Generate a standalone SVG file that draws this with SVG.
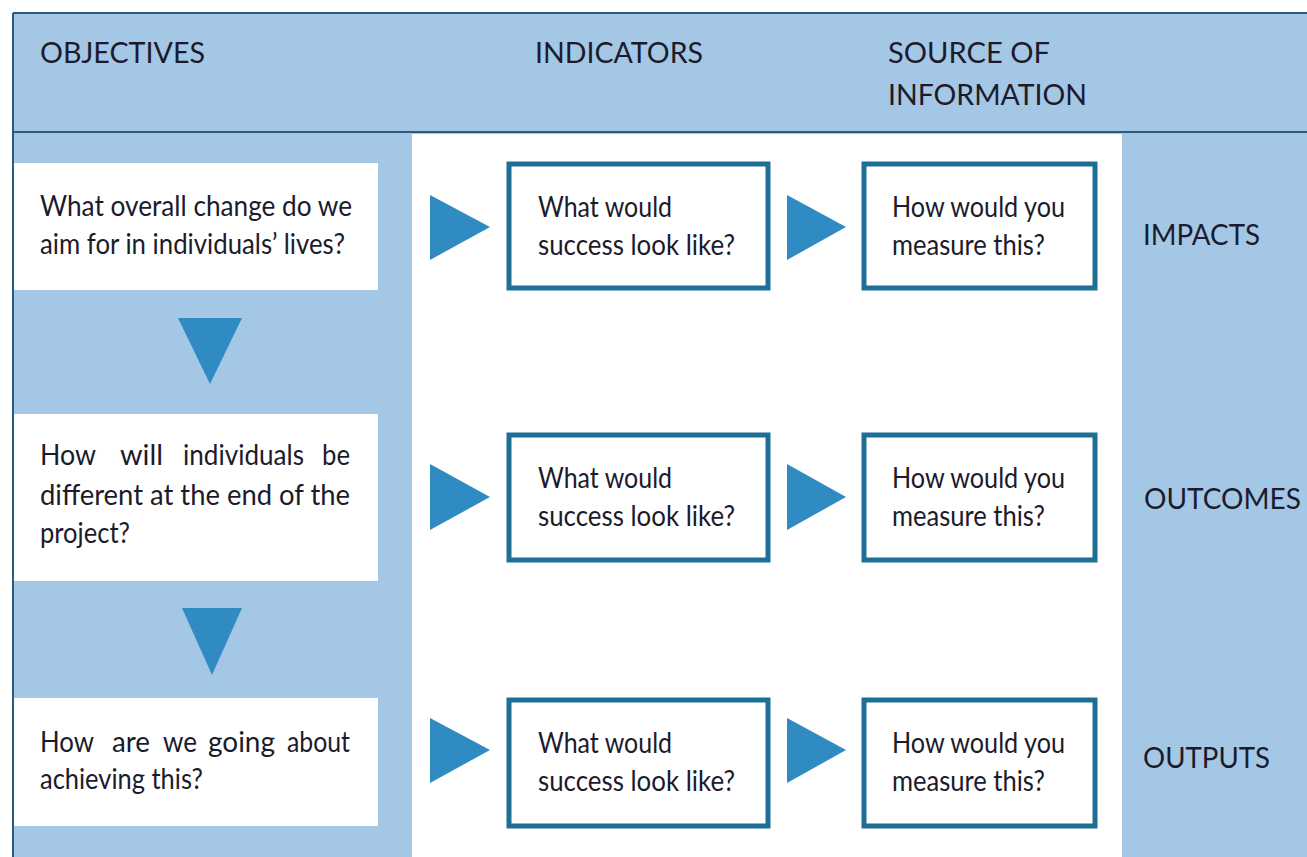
<svg xmlns="http://www.w3.org/2000/svg" width="1307" height="857" viewBox="0 0 1307 857">
<style>
  .band{fill:#a4c7e6}
  .t{font-family:Lato,"Open Sans","Liberation Sans",sans-serif;font-size:29px;fill:#1c1b2c}
  .h{font-family:Lato,"Open Sans","Liberation Sans",sans-serif;font-size:28px;fill:#1c1b2c}
  .q{fill:#ffffff}
  .box{fill:#ffffff;stroke:#1d6f96;stroke-width:5}
  .arr{fill:#2f8bc1}
  .rule{stroke:#2b5b7c;stroke-width:2}
</style>
<rect width="1307" height="857" fill="#ffffff"/>
<g id="background">
  <rect class="band" x="13" y="13" width="1294" height="844"/>
  <rect x="412" y="134" width="710" height="723" fill="#ffffff"/>
  <line class="rule" x1="13" y1="13" x2="1307" y2="13"/>
  <line class="rule" x1="13" y1="132" x2="1307" y2="132"/>
  <line class="rule" x1="13" y1="13" x2="13" y2="857"/>
</g>
<g id="headers">
  <text class="h" x="40" y="63" textLength="165" lengthAdjust="spacingAndGlyphs">OBJECTIVES</text>
  <text class="h" x="535" y="63" textLength="168" lengthAdjust="spacingAndGlyphs">INDICATORS</text>
  <text class="h" x="888" y="63" textLength="162" lengthAdjust="spacingAndGlyphs">SOURCE OF</text>
  <text class="h" x="888" y="105" textLength="199" lengthAdjust="spacingAndGlyphs">INFORMATION</text>
</g>
<g id="obj-impacts">
  <rect class="q" x="14" y="163" width="364" height="127"/>
  <text class="t" x="40" y="216" textLength="312" lengthAdjust="spacingAndGlyphs">What overall change do we</text>
  <text class="t" x="40" y="254" textLength="305" lengthAdjust="spacingAndGlyphs">aim for in individuals’ lives?</text>
</g>
<g id="obj-outcomes">
  <rect class="q" x="14" y="414" width="364" height="167"/>
  <text class="t" y="465"><tspan x="40" textLength="56" lengthAdjust="spacingAndGlyphs">How</tspan><tspan x="120" textLength="43" lengthAdjust="spacingAndGlyphs">will</tspan><tspan x="183" textLength="121" lengthAdjust="spacingAndGlyphs">individuals</tspan><tspan x="322" textLength="28" lengthAdjust="spacingAndGlyphs">be</tspan></text>
  <text class="t" x="40" y="505" textLength="310" lengthAdjust="spacingAndGlyphs">different at the end of the</text>
  <text class="t" x="40" y="543" textLength="90" lengthAdjust="spacingAndGlyphs">project?</text>
</g>
<g id="obj-outputs">
  <rect class="q" x="14" y="698" width="364" height="128"/>
  <text class="t" y="752"><tspan x="40" textLength="54" lengthAdjust="spacingAndGlyphs">How</tspan><tspan x="112" textLength="38" lengthAdjust="spacingAndGlyphs">are</tspan><tspan x="163" textLength="34" lengthAdjust="spacingAndGlyphs">we</tspan><tspan x="208" textLength="67" lengthAdjust="spacingAndGlyphs">going</tspan><tspan x="287" textLength="63" lengthAdjust="spacingAndGlyphs">about</tspan></text>
  <text class="t" x="40" y="789" textLength="163" lengthAdjust="spacingAndGlyphs">achieving this?</text>
</g>
<g id="ind-impacts">
  <rect class="box" x="509" y="164" width="259" height="124"/>
  <text class="t" x="538" y="217" textLength="134" lengthAdjust="spacingAndGlyphs">What would</text>
  <text class="t" x="538" y="255" textLength="197" lengthAdjust="spacingAndGlyphs">success look like?</text>
</g>
<g id="src-impacts">
  <rect class="box" x="864" y="164" width="231" height="124"/>
  <text class="t" x="892" y="217" textLength="173" lengthAdjust="spacingAndGlyphs">How would you</text>
  <text class="t" x="892" y="255" textLength="153" lengthAdjust="spacingAndGlyphs">measure this?</text>
</g>
<g id="ind-outcomes">
  <rect class="box" x="509" y="435" width="259" height="125"/>
  <text class="t" x="538" y="488" textLength="134" lengthAdjust="spacingAndGlyphs">What would</text>
  <text class="t" x="538" y="526" textLength="197" lengthAdjust="spacingAndGlyphs">success look like?</text>
</g>
<g id="src-outcomes">
  <rect class="box" x="864" y="435" width="231" height="125"/>
  <text class="t" x="892" y="488" textLength="173" lengthAdjust="spacingAndGlyphs">How would you</text>
  <text class="t" x="892" y="526" textLength="153" lengthAdjust="spacingAndGlyphs">measure this?</text>
</g>
<g id="ind-outputs">
  <rect class="box" x="509" y="700" width="259" height="126"/>
  <text class="t" x="538" y="753" textLength="134" lengthAdjust="spacingAndGlyphs">What would</text>
  <text class="t" x="538" y="791" textLength="197" lengthAdjust="spacingAndGlyphs">success look like?</text>
</g>
<g id="src-outputs">
  <rect class="box" x="864" y="700" width="231" height="126"/>
  <text class="t" x="892" y="753" textLength="173" lengthAdjust="spacingAndGlyphs">How would you</text>
  <text class="t" x="892" y="791" textLength="153" lengthAdjust="spacingAndGlyphs">measure this?</text>
</g>
<g id="levels">
  <text class="h" x="1143" y="245" textLength="117" lengthAdjust="spacingAndGlyphs">IMPACTS</text>
  <text class="h" x="1144" y="509" textLength="157" lengthAdjust="spacingAndGlyphs">OUTCOMES</text>
  <text class="h" x="1143" y="768" textLength="127" lengthAdjust="spacingAndGlyphs">OUTPUTS</text>
</g>
<g id="connectors">
  <polygon class="arr" points="430,195 490,227 430,260"/>
  <polygon class="arr" points="787,195 846,227 787,260"/>
  <polygon class="arr" points="430,464 490,497 430,530"/>
  <polygon class="arr" points="787,464 846,497 787,530"/>
  <polygon class="arr" points="430,718 490,750 430,783"/>
  <polygon class="arr" points="787,718 846,750 787,783"/>
  <polygon class="arr" points="178,318 242,318 210,384"/>
  <polygon class="arr" points="182,608 242,608 212,675"/>
</g>
</svg>
